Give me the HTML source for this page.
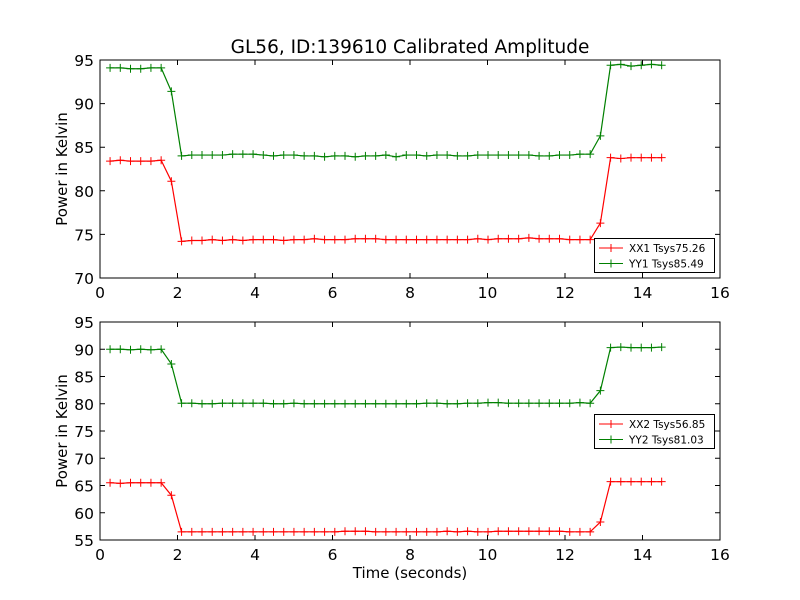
<!DOCTYPE html>
<html><head><meta charset="utf-8"><style>
body{margin:0;background:#fff}
svg{display:block;font-family:"DejaVu Sans","Liberation Sans",sans-serif}
</style></head><body>
<svg id="c" width="800" height="600"></svg>
<script>
const n=55;
const times=Array.from({length:n},(_, i)=>0.26+i*0.2636);
const xx1=[83.4,83.5,83.4,83.4,83.4,83.5,81.1,
74.2,74.3,74.3,74.4,74.3,74.4,74.3,74.4,74.4,74.4,74.3,74.4,74.4,74.5,74.4,74.4,74.4,74.5,74.5,74.5,74.4,74.4,74.4,74.4,74.4,74.4,74.4,74.4,74.4,74.5,74.4,74.5,74.5,74.5,74.6,74.5,74.5,74.5,74.4,74.4,74.4,
76.3,83.8,83.7,83.8,83.8,83.8,83.8];
const yy1=[94.1,94.1,94.0,94.0,94.1,94.1,91.4,
84.0,84.1,84.1,84.1,84.1,84.2,84.2,84.2,84.1,84.0,84.1,84.1,84.0,84.0,83.9,84.0,84.0,83.9,84.0,84.0,84.1,83.9,84.1,84.1,84.0,84.1,84.1,84.0,84.0,84.1,84.1,84.1,84.1,84.1,84.1,84.0,84.0,84.1,84.1,84.2,84.2,
86.3,94.4,94.5,94.3,94.4,94.5,94.4];
const xx2=[65.5,65.4,65.5,65.5,65.5,65.5,63.2,
56.5,56.5,56.5,56.5,56.5,56.5,56.5,56.5,56.5,56.5,56.5,56.5,56.5,56.5,56.5,56.5,56.6,56.6,56.6,56.5,56.5,56.5,56.5,56.5,56.5,56.5,56.6,56.5,56.6,56.5,56.5,56.6,56.6,56.6,56.6,56.6,56.6,56.6,56.5,56.5,56.5,
58.3,65.7,65.7,65.7,65.7,65.7,65.7];
const yy2=[90.0,90.0,89.9,90.0,89.9,90.0,87.3,
80.1,80.1,80.0,80.0,80.1,80.1,80.1,80.1,80.1,80.0,80.0,80.1,80.0,80.0,80.0,80.0,80.0,80.0,80.0,80.0,80.0,80.0,80.0,80.0,80.1,80.1,80.0,80.0,80.1,80.1,80.2,80.2,80.1,80.1,80.1,80.1,80.1,80.1,80.1,80.2,80.1,
82.4,90.3,90.4,90.3,90.3,90.3,90.4];
const xTicks=[0,2,4,6,8,10,12,14,16];
const yTicksTop=[70,75,80,85,90,95];
const yTicksBot=[55,60,65,70,75,80,85,90,95];
const NS='http://www.w3.org/2000/svg';
const svg=document.getElementById('c');
function mk(tag,attrs,parent){const e=document.createElementNS(NS,tag);for(const k in attrs)e.setAttribute(k,attrs[k]);(parent||svg).appendChild(e);return e;}
function panel(pfx,top,bot,ymin,ymax,yt,series,legY){
  const L=100,R=720;
  const g=mk('g',{});
  
  
  const xs=v=>L+(v-0)/16*(R-L);
  const ys=v=>bot-(v-ymin)/(ymax-ymin)*(bot-top);
  mk('rect',{x:L,y:top,width:R-L,height:bot-top,fill:'#fff'},g);
  series.forEach(s=>{
    const pl=mk('polyline',{points:s.d.map((v,i)=>xs(times[i])+','+ys(v)).join(' '),fill:'none',stroke:s.c,'stroke-width':1.2},g);
    
    
    s.d.forEach((v,i)=>{const x=xs(times[i]),y=ys(v);
      const m=mk('path',{d:`M${x-4},${y}H${x+4}M${x},${y-4}V${y+4}`,stroke:s.c,'stroke-width':1},g);
      
      
    });
  });
  mk('rect',{x:L,y:top,width:R-L,height:bot-top,fill:'none',stroke:'#000','stroke-width':1},g);
  xTicks.forEach(t=>{const x=xs(t);
    mk('path',{d:`M${x},${bot}v-5M${x},${top}v5`,stroke:'#000'},g);
    const tx=mk('text',{x:x,y:bot+20,'text-anchor':'middle','font-size':15.5},g);tx.textContent=t;
    
    
  });
  yt.forEach(t=>{const y=ys(t);
    mk('path',{d:`M${L},${y}h5M${R},${y}h-5`,stroke:'#000'},g);
    const tx=mk('text',{x:L-6,y:y+6,'text-anchor':'end','font-size':15.5},g);tx.textContent=t;
    
    
  });
  const yl=mk('text',{x:67,y:(top+bot)/2,'text-anchor':'middle','font-size':15,transform:`rotate(-90 67 ${(top+bot)/2})`},g);
  yl.textContent='Power in Kelvin';
  
  
  const lg=mk('g',{},g);
  
  
  mk('rect',{x:594.5,y:legY+0.5,width:120,height:34,fill:'#fff',stroke:'#000'},lg);
  series.forEach((s,i)=>{const y=legY+10+i*15.5;
    mk('path',{d:`M599,${y}h24M611,${y-4}v8`,stroke:s.c,'stroke-width':1},lg);
    const t=mk('text',{x:629,y:y+4,'font-size':10.5},lg);t.textContent=s.label;
    
    
  });
}
const title=mk('text',{x:410,y:53,'text-anchor':'middle','font-size':18.5});
title.textContent='GL56, ID:139610 Calibrated Amplitude';


panel('top',60,278,70,95,yTicksTop,[{d:xx1,c:'#ff0000',name:'xx1',label:'XX1 Tsys75.26'},{d:yy1,c:'#008000',name:'yy1',label:'YY1 Tsys85.49'}],238);
panel('bottom',322,540,55,95,yTicksBot,[{d:xx2,c:'#ff0000',name:'xx2',label:'XX2 Tsys56.85'},{d:yy2,c:'#008000',name:'yy2',label:'YY2 Tsys81.03'}],414);
const xl=mk('text',{x:410,y:578,'text-anchor':'middle','font-size':15});
xl.textContent='Time (seconds)';


</script>
</body></html>
